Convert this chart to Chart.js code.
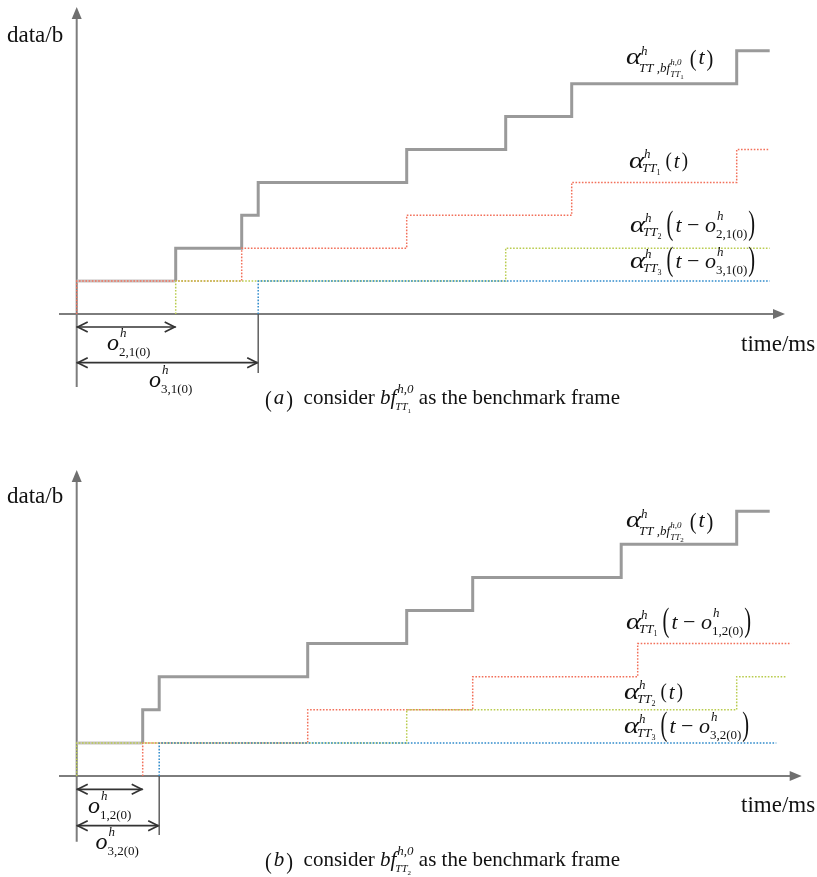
<!DOCTYPE html>
<html>
<head>
<meta charset="utf-8">
<script src="https://cdn.jsdelivr.net/npm/chart.js@4.4.1/dist/chart.umd.min.js"></script>
<style>
  html, body { margin: 0; padding: 0; background: #fff; }
  #wrap { position: relative; width: 817px; height: 877px; }
  canvas { position: absolute; left: 0; }
</style>
</head>
<body>
<div id="wrap">
  <canvas id="ca" width="817" height="438" style="top:0"></canvas>
  <canvas id="cb" width="817" height="439" style="top:438px"></canvas>
</div>
<script>
// ---------- DATA: panel (a), benchmark frame bf_TT1 ----------
const aTotalX = [0, 3, 3, 5, 5.5, 10, 13, 15, 20, 21];
const aTotalY = [1, 1, 2, 3, 4, 5, 6, 7, 8, 8];
const aTT1X = [0, 0, 5, 10, 15, 20, 21];
const aTT1Y = [0, 1, 2, 3, 4, 5, 5];
const aTT2X = [3, 3, 13, 21];
const aTT2Y = [0, 1, 2, 2];
const aTT3X = [5.5, 5.5, 21];
const aTT3Y = [0, 1, 1];
const aOffsets = [3, 5.5];

// ---------- DATA: panel (b), benchmark frame bf_TT2 ----------
const bTotalX = [0, 2, 2, 2.5, 7, 10, 12, 16.5, 20, 21];
const bTotalY = [1, 1, 2, 3, 4, 5, 6, 7, 8, 8];
const bTT1X = [2, 2, 7, 12, 17, 21.65];
const bTT1Y = [0, 1, 2, 3, 4, 4];
const bTT2X = [0, 0, 10, 20, 21.5];
const bTT2Y = [0, 1, 2, 3, 3];
const bTT3X = [2.5, 2.5, 21.2];
const bTT3Y = [0, 1, 1];
const bOffsets = [2, 2.5];

// ---------- helpers ----------
const FONT = '"Liberation Serif", "Times New Roman", serif';
const pts = (xs, ys) => xs.map((x, i) => ({ x, y: ys[i] }));
function T(t, s, o) { return Object.assign({ t, s }, o || {}); }

function row(ctx, x, y, items, draw) {
  let cx = x;
  for (const it of items) {
    if (it.st) {
      let w = 0;
      for (const r of it.st) w = Math.max(w, row(ctx, cx, y, r, draw));
      cx += w;
    } else {
      ctx.font = (it.i ? 'italic ' : '') + it.s + 'px ' + FONT;
      const dx = it.dx || 0, sx = it.sx || 1;
      const w = ctx.measureText(it.t).width * sx;
      if (draw) {
        ctx.save();
        ctx.translate(cx + dx, y + (it.dy || 0));
        ctx.scale(sx, 1);
        ctx.fillText(it.t, 0, 0);
        ctx.restore();
      }
      cx += dx + w;
    }
  }
  return cx - x;
}

const subTT = n => [T('TT', 13, { i: 1, dy: 4, dx: -2 }), T(n, 8, { dy: 7 })];
const subAgg = n => [T('TT', 13, { i: 1, dy: 8, dx: -2 }), T(' ,', 13, { i: 1, dy: 8 }), T('bf', 13, { i: 1, dy: 8 }),
  { st: [[T('h,0', 9, { i: 1, dy: 1 })], [T('TT', 9, { i: 1, dy: 13 }), T(n, 7, { dy: 15 })]] }];
const alpha = (sub, hdy) => [T('α', 24, { i: 1, sx: 1.2 }), { st: [[T('h', 13, { i: 1, dy: hdy, dx: 0 })], sub] }];
const argT = [T('(', 21, { dx: 5, dy: -1, sx: 0.9 }), T('t', 21, { i: 1, dx: 2 }), T(')', 21, { dx: 2, dy: -1, sx: 0.9 })];
const argTO = nn => [T('(', 33, { dx: 5, dy: 2, sx: 0.62 }), T('t', 22, { i: 1, dx: 2 }), T(' − ', 22),
  T('o', 22, { i: 1 }), { st: [[T('h', 13, { i: 1, dy: -12, dx: 1 })], [T(nn, 13, { dy: 6 })]] },
  T(')', 33, { dx: 1, dy: 2, sx: 0.62 })];
const oLab = nn => [T('o', 24, { i: 1 }), { st: [[T('h', 13, { i: 1, dy: -13, dx: 1 })], [T(nn, 13, { dy: 6 })]] }];
const caption = (letter, n) => [T('(', 24, { dy: 3, sx: 0.85 }), T(letter, 21, { i: 1, dx: 2 }), T(')', 24, { dx: 2, dy: 3, sx: 0.85 }),
  T('  consider ', 21), T('bf', 21, { i: 1 }),
  { st: [[T('h,0', 13, { i: 1, dy: -11, dx: 1 })], [T('TT', 11, { i: 1, dy: 6, dx: -1 }), T(n, 7, { dy: 9 })]] },
  T(' as the benchmark frame', 21)];

// ---------- overlay plugin: arrows, dimension lines and labels ----------
const overlay = {
  id: 'overlay',
  beforeDatasetsDraw(chart, args, o) {
    const ctx = chart.ctx, xs = chart.scales.x, ys = chart.scales.y;
    const X0 = xs.getPixelForValue(0), Y0 = ys.getPixelForValue(0);
    ctx.save();
    ctx.strokeStyle = '#7d7d7d'; ctx.fillStyle = '#6f6f6f'; ctx.lineWidth = 2;
    ctx.beginPath(); ctx.moveTo(o.axStart, Y0); ctx.lineTo(o.axEnd - 10, Y0); ctx.stroke();
    ctx.beginPath(); ctx.moveTo(o.axEnd, Y0); ctx.lineTo(o.axEnd - 12, Y0 - 5); ctx.lineTo(o.axEnd - 12, Y0 + 5); ctx.closePath(); ctx.fill();
    ctx.beginPath(); ctx.moveTo(X0, o.ayBottom); ctx.lineTo(X0, o.ayTop + 10); ctx.stroke();
    ctx.beginPath(); ctx.moveTo(X0, o.ayTop); ctx.lineTo(X0 - 5, o.ayTop + 12); ctx.lineTo(X0 + 5, o.ayTop + 12); ctx.closePath(); ctx.fill();
    ctx.restore();
  },
  afterDatasetsDraw(chart, args, o) {
    const ctx = chart.ctx, xs = chart.scales.x, ys = chart.scales.y;
    const X0 = xs.getPixelForValue(0), Y0 = ys.getPixelForValue(0);
    ctx.save();
    o.offsets.forEach((off, i) => {
      const xe = xs.getPixelForValue(off), y = o.dimY[i];
      ctx.strokeStyle = '#333'; ctx.lineWidth = 1.7;
      ctx.beginPath(); ctx.moveTo(X0, y); ctx.lineTo(xe, y); ctx.stroke();
      ctx.beginPath();
      ctx.moveTo(X0 + 11, y - 5); ctx.lineTo(X0 + 1, y); ctx.lineTo(X0 + 11, y + 5);
      ctx.moveTo(xe - 11, y - 5); ctx.lineTo(xe - 1, y); ctx.lineTo(xe - 11, y + 5);
      ctx.stroke();
      if (o.tickBot[i]) {
        ctx.strokeStyle = '#555'; ctx.lineWidth = 1.4;
        ctx.beginPath(); ctx.moveTo(xe, Y0); ctx.lineTo(xe, o.tickBot[i]); ctx.stroke();
      }
    });
    ctx.fillStyle = '#111';
    ctx.textBaseline = 'alphabetic';
    for (const lab of o.texts) row(ctx, lab.x, lab.y, lab.items, true);
    ctx.restore();
  }
};

function makeChart(id, d, pad, opts) {
  const lineBase = { pointRadius: 0, stepped: 'before', fill: false, borderCapStyle: 'butt' };
  return new Chart(document.getElementById(id), {
    type: 'line',
    data: {
      datasets: [
        Object.assign({ label: 'TT3', data: d.tt3, borderColor: '#2f8bcb', borderWidth: 1.5, borderDash: [1.6, 1.6] }, lineBase),
        Object.assign({ label: 'TT2', data: d.tt2, borderColor: '#b9cc4e', borderWidth: 1.5, borderDash: [1.6, 1.6] }, lineBase),
        Object.assign({ label: 'TT1', data: d.tt1, borderColor: '#f2705a', borderWidth: 1.5, borderDash: [1.6, 1.6] }, lineBase),
        Object.assign({ label: 'Total', data: d.total, borderColor: '#9a9a9a', borderWidth: 3, borderJoinStyle: 'miter',
          segment: { borderColor: c => c.p0DataIndex === 0 ? '#c6c2c2' : undefined } }, lineBase)
      ]
    },
    options: {
      responsive: false, animation: false, devicePixelRatio: 1, events: [],
      layout: { padding: pad },
      plugins: { legend: { display: false }, tooltip: { enabled: false }, overlay: opts },
      scales: {
        x: { type: 'linear', min: -2, max: 22, display: false },
        y: { type: 'linear', min: -3, max: 9, display: false }
      }
    },
    plugins: [overlay]
  });
}

const topArg = [T('(', 24, { dx: 6, dy: 2, sx: 0.85 }), T('t', 22, { i: 1, dx: 2 }), T(')', 24, { dx: 2, dy: 2, sx: 0.85 })];

makeChart('ca',
  { total: pts(aTotalX, aTotalY), tt1: pts(aTT1X, aTT1Y), tt2: pts(aTT2X, aTT2Y), tt3: pts(aTT3X, aTT3Y) },
  { left: 10.7, right: 14.3, top: 17.9, bottom: 25.3 },
  {
    axStart: 59, axEnd: 785, ayTop: 7, ayBottom: 387,
    offsets: aOffsets, dimY: [327, 362.7], tickBot: [0, 373],
    texts: [
      { x: 7, y: 42, items: [T('data/b', 23)] },
      { x: 741, y: 351, items: [T('time/ms', 23)] },
      { x: 626, y: 64, items: [...alpha(subAgg('1'), -9), ...topArg] },
      { x: 629, y: 168.3, items: [...alpha(subTT('1'), -10), ...argT] },
      { x: 630, y: 232, items: [...alpha(subTT('2'), -10), ...argTO('2,1(0)')] },
      { x: 630, y: 268, items: [...alpha(subTT('3'), -10), ...argTO('3,1(0)')] },
      { x: 107, y: 350, items: oLab('2,1(0)') },
      { x: 149, y: 387, items: oLab('3,1(0)') },
      { x: 265, y: 404, items: caption('a', '1') }
    ]
  });

makeChart('cb',
  { total: pts(bTotalX, bTotalY), tt1: pts(bTT1X, bTT1Y), tt2: pts(bTT2X, bTT2Y), tt3: pts(bTT3X, bTT3Y) },
  { left: 10.7, right: 14.3, top: 40.1, bottom: 1.7 },
  {
    axStart: 59, axEnd: 801.7, ayTop: 32, ayBottom: 403.7,
    offsets: bOffsets, dimY: [351.3, 387.7], tickBot: [0, 397],
    texts: [
      { x: 7, y: 65.3, items: [T('data/b', 23)] },
      { x: 741, y: 373.7, items: [T('time/ms', 23)] },
      { x: 626, y: 89.3, items: [...alpha(subAgg('2'), -9), ...topArg] },
      { x: 626, y: 191.3, items: [...alpha(subTT('1'), -10), ...argTO('1,2(0)')] },
      { x: 624, y: 261.3, items: [...alpha(subTT('2'), -10), ...argT] },
      { x: 624, y: 295.3, items: [...alpha(subTT('3'), -10), ...argTO('3,2(0)')] },
      { x: 88, y: 374.7, items: oLab('1,2(0)') },
      { x: 95.5, y: 411.3, items: oLab('3,2(0)') },
      { x: 265, y: 428, items: caption('b', '2') }
    ]
  });
</script>
</body>
</html>
